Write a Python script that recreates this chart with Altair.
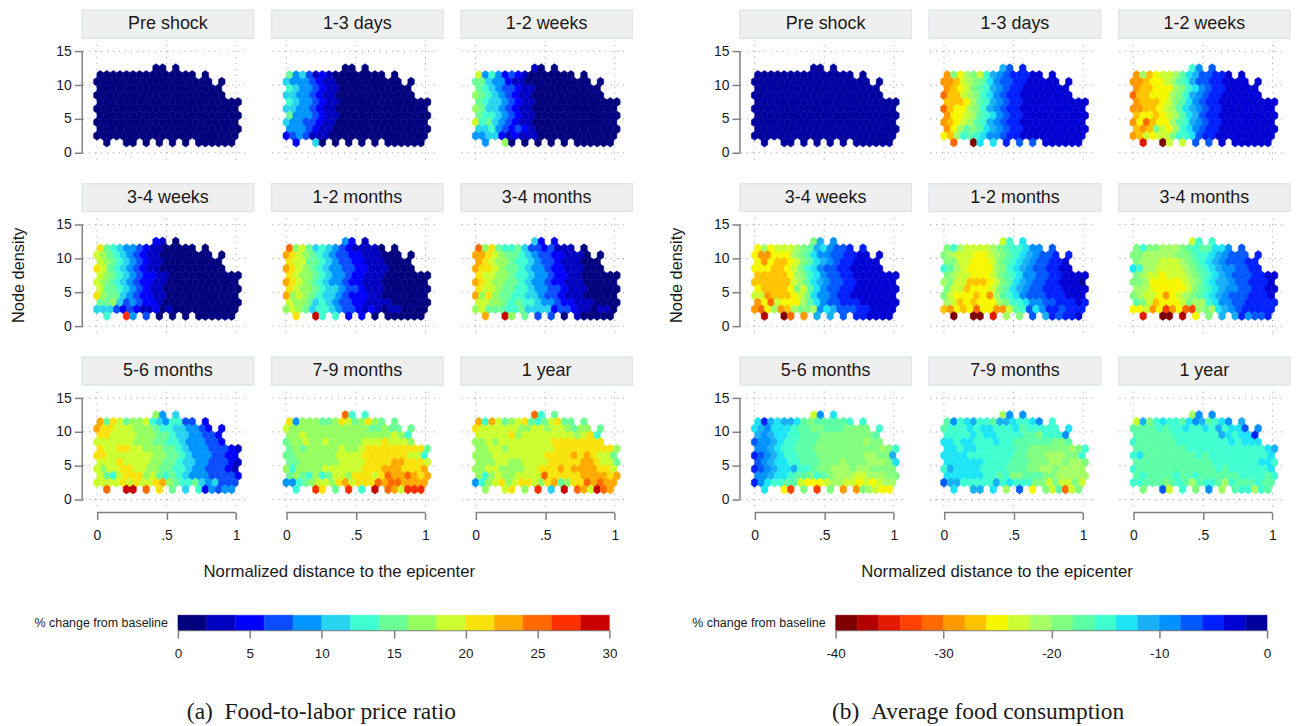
import altair as alt
import pandas as pd

LABELS = ["Pre shock", "1-3 days", "1-2 weeks", "3-4 weeks", "1-2 months", "3-4 months",
          "5-6 months", "7-9 months", "1 year"]

# hex rows from top to bottom: node density and the column indices present in that row
ROW_Y = [12.5, 11.5, 10.5, 9.5, 8.5, 7.5, 6.5, 5.5, 4.5, 3.5, 2.5, 1.5]
ROW_K = [[9, 10, 12], list(range(15)) + [16], list(range(18)) + [19], list(range(19)), list(range(20)),
         list(range(22)), list(range(22)), list(range(22)), list(range(22)), list(range(22)), list(range(22)),
         [1, 4, 5, 7, 9, 11, 13, 15, 16, 17, 18, 19, 20]]
COL_STEP = 0.0472

# level codes: one character per hexagon, 2 % wide bins
PRICE = [
 ["000", "0"*16, "0"*19, "0"*19, "0"*20, "0"*22, "0"*22, "0"*22, "0"*22, "0"*22, "0"*22, "0"*13],
 ["000", "7453121000000000", "5444321100000000000", "6544321100000000000", "55443211000000000000",
  "6544321100000000000000", "5544321100000000000000", "7444321100000000000000", "5443321100000000000000",
  "4443211000000000000000", "2343111000000000000000", "2500000000000"],
 ["100", "9464232100000000", "7754421100000000000", "7654332110000000000", "87654321100000000000",
  "7655432110000000000000", "8755432110000000000000", "7665432110000000000000", "9675432110000000000000",
  "5564323210000000000000", "4455212111000000000000", "4800000000000"],
 ["210", "a765443211000000", "9876543211000000000", "9876543211000000000", "a9765432110000000000",
  "9876543221100000000000", "9876543221100000000000", "9776543211000000000000", "a877543221100000000000",
  "7785343221000000000000", "5553232112010000000000", "6d43000000000"],
 ["421", "c897565432111100", "ba98765433221110000", "a997765433221110000", "ba987654433221110000",
  "a988765443221110000000", "ba98765443221110000000", "a988765543321110000000", "b898765543222110000000",
  "9887565433221111000000", "8987566543321210110000", "ae66220000000"],
 ["522", "c8a7667533231110", "bba9877654332211100", "ba98876654332111000", "baa98776544322111000",
  "a998876654432211000000", "ba98877654432211100000", "a998776654433211100000", "b8a87766554332111 00000".replace(" ", ""),
  "9988767665443221110000", "8977766755552332110110", "be87330100000"],
 ["845", "b7a9788965466332", "baa9998887665544322", "aa99998887765544332", "99999988877665444332",
  "a99aa99888776544433321", "aa99999998877654443322", "999a999988776554433321", "9899aa9988776654433321",
  "9769aaa897676544433332", "9999a9a99ab87667545333", "ceeca75624344"],
 ["c66", "a4888778a978a877", "9888888888888778777", "8898888888888888986", "788988988888999a9998",
  "787888889889aaaaaaaaa7", "778888889999aaaaaaa996", "778888889999aaaabbaaa9", "868888999999aaabbbaaab",
  "7876867998aaa9acbbcbab", "44678998ab9aaacbccbbbb", "6da7d6ecb9ddd"],
 ["c67", "b6b9789a7679a777", "a999999889989987887", "99999a89999999989a6", "889899999999aaaaaaaa",
  "889989999999aaaaaaaaa8", "88899999999aaaababa997", "88899889999aaaaabba997", "8899888899aaababbbbaa9",
  "8689889999caaaaabbbbab", "4689a89aa98ab78aacbcbb", "89a8d5ecb9ecb"],
]
FOOD = [
 ["jjj", "j"*16, "j"*19, "j"*19, "j"*20, "j"*22, "j"*22, "j"*22, "j"*22, "j"*22, "j"*22, "j"*13],
 ["egh", "5a79a8cefghhhiii", "55689abdfgghhiiiiii", "5678abcefghhiiiiiii", "46689acdfghhiiiiiiii",
  "66679bcefghhiiiiiiiiii", "46779acefghhiiiiiiiiii", "57789bcdfghhiiiiiiiiii", "56789bcefghhiiiiiiiiii",
  "579babdefghhiiiiiiiiii", "769cbcdffghhiiiiiiiiii", "40ddhggiiiiii"],
 ["cfg", "5967889bdegghhii", "5567789bcegghhiiiii", "5667779acdfghhiiiii", "4667779acefghhiiiiii",
  "566678abdfghhiiiiiiiii", "5566789bdefghhiiiiiiii", "6776789bdeghhiiiiiiiii", "5746779bcefghhiiiiiiii",
  "656a879cdfghhiiiiiiiii", "568788accdghhiiiiiiiii", "2088ggiiiiiii"],
 ["aef", "7978889abedfgghh", "7557779abdffgghhiii", "7576678abdefghhiiii", "7776678acdfgghhiiiii",
  "6666679acdfgghhiiiiiii", "66666689bdefgghhiiiiii", "766667a8bdfgghhiiiiiii", "88566678adffghhiiiiiii",
  "57487779bdfgghhhiiiiii", "5479569aa9fdeggghhiiii", "1045eeghhiiii"],
 ["8cd", "ac988889abccdffg", "a98887789abcdefgghh", "aa887778abcdefgghhi", "cb9877779acdefgghhii",
  "a9887778abcdffgghhiiii", "9a8866678abdefgghhiiij", "a8867778abdefgghhhiiii", "a87776759bcdfggghhhiii",
  "986767779accdffgghhhih", "65767477558bcgdfhhghhh", "00029agehghhi"],
 ["8cc", "acaa999abcbbddfg", "aa99999aabccdefgggh", "a9998889abcdefggghh", "dc9988889abcdeffgghh",
  "a98878889abcdefggghhii", "aa97777789acdeefgghhhi", "998777778abcdeffgghhii", "a98875789abcdefggghhhi",
  "ba867778a99cdffgghhhhh", "77857357439a9defghhhhh", "20017aeehfggh"],
 ["8fd", "dhedeedbabbbbbcc", "defdddcbbaabbbaaaac", "efeddccbbbaaaaaaaab", "gffedccbbbaaaaaaa9aa",
  "ffedccbbbaaaaaaaaaa9ac", "hgfedccbbbaaaaaaa99aae", "gfeddccbbbaaa9aaa999ad", "hgfeddeccbaa999a99aaaa",
  "ffeddcbbacba99988999aa", "hfdccbb877789988787899", "d73a3a55a9877"],
 ["9ff", "bfcdeccbeedccdfc", "bcccdcddcccdbcccccd", "ccccdcddccccbbacccf", "ddcddcccdccbbbbbbaab",
  "ddcddccccccbbaaaaaa9ac", "ddddcccccccbbaaa999aac", "ddddddccccbbbaaa99a99a", "ceddddccccbbbaa99a9999",
  "ddddddccbcaabbbaa99999", "geecccccecdcccaa8a88a8", "deed9g7a8b48a"],
 ["9ff", "8eacdccbdfebcdfe", "bbbbcbccdccdcecddgf", "bbbbbbcccccccedcddh", "cbbbbbbccccccccdcddd",
  "bbbbbbbbccccccccccccde", "cdbbbbbbbbcbcccccccccd", "bbbbbbbbbbbbcccccccddc", "cbbbbbbbbbbbbcbccccccd",
  "bcbbbbcbbcbbbbbbccccbc", "ccbbbabcb9bccb9cbbbcbb", "ag8caf9bcc9cb"],
]

PRICE_COLORS = ["#00007f", "#0000c0", "#0000ff", "#0a4dff", "#0095ff", "#28d4f0", "#40ffd0", "#6cff96",
                "#96ff60", "#ccff30", "#f8e40c", "#ffaa00", "#ff6a00", "#ff3000", "#c80000"]
FOOD_COLORS = ["#7f0000", "#b30000", "#e31a00", "#ff4000", "#ff6a00", "#ff9900", "#ffc300", "#f7f700",
               "#ccff33", "#a6ff66", "#80ff80", "#5cffa6", "#40ffd0", "#1ee5f5", "#1ab0f5", "#0090ff",
               "#0059ff", "#0020ff", "#0000d5", "#00009f"]
PRICE_TICKS = [0, 5, 10, 15, 20, 25, 30]
FOOD_TICKS = [-40, -30, -20, -10, 0]

W, H = 172, 156
XDOM = [-0.1055, 1.1258]
YDOM = [-1.915, 21.06]
HEX = "M0,-1L0.727,-0.5L0.727,0.5L0,1L-0.727,0.5L-0.727,-0.5Z"
SANS = "Liberation Sans"
SERIF = "Liberation Serif"
GRAY = "#808080"
INK = "#1a1a1a"

xs = alt.Scale(domain=XDOM, nice=False, zero=False)
ys = alt.Scale(domain=YDOM, nice=False, zero=False)

# colour scales are shared across a concat, so one scale holds both (non-overlapping) value ranges
color_scale = alt.Scale(domain=[2 * i + 1 for i in range(15)] + [-40 + 2 * i + 1 for i in range(20)],
                        range=PRICE_COLORS + FOOD_COLORS)


def hex_frame(rows, start):
    out = []
    for y, ks, row in zip(ROW_Y, ROW_K, rows):
        row = (row + row[-1] * 30)[:len(ks)]
        offset = 0.5 * COL_STEP if int(y) % 2 == 1 else 0.0
        for k, c in zip(ks, row):
            out.append({"d": round(offset + k * COL_STEP, 4), "n": y, "v": start + 2 * int(c, 36) + 1})
    return pd.DataFrame(out)


def text_layer(txt, x, y, size=14, align="center", font=SANS, angle=None):
    kw = dict(align=align, baseline="middle", fontSize=size, font=font, color=INK)
    if angle is not None:
        kw["angle"] = angle
    return alt.Chart(pd.DataFrame({"t": [txt]})).mark_text(**kw).encode(text="t:N", x=alt.value(x), y=alt.value(y))


def panel(rows, label, start, first_col, last_row, mid_col, mid_row):
    one = pd.DataFrame({"a": [0]})
    yaxis = alt.Axis(values=[0, 5, 10, 15], title=None, domain=False, grid=False, tickSize=8, tickColor=GRAY,
                     tickWidth=1.5, labelFontSize=14, labelFont=SANS, labelColor=INK, labelPadding=3) if first_col else None
    xaxis = alt.Axis(values=[0, 0.5, 1], title=None, domain=False, grid=False, tickSize=7, tickColor=GRAY,
                     tickWidth=1.5, labelFontSize=14, labelFont=SANS, labelColor=INK, labelPadding=9,
                     labelExpr="datum.value == 0.5 ? '.5' : toString(datum.value)") if last_row else None
    layers = [
        alt.Chart(one).mark_rect(fill="#efefef", stroke="#dde6ea", strokeWidth=1.5).encode(
            x=alt.value(0), x2=alt.value(W), y=alt.value(0), y2=alt.value(28)),
        text_layer(label, W / 2, 14, size=18),
    ]
    vgrid = pd.DataFrame({"x": [0, 0.5, 1], "a": [-1.0] * 3, "b": [16.2] * 3})
    hgrid = pd.DataFrame({"y": [0, 5, 10, 15], "a": [-0.1] * 4, "b": [1.1] * 4})
    dots = dict(color="#9a9a9a", strokeWidth=1, strokeDash=[1, 5])
    layers.append(alt.Chart(vgrid).mark_rule(**dots).encode(
        x=alt.X("x:Q", scale=xs, axis=xaxis), y=alt.Y("a:Q", scale=ys, axis=yaxis), y2="b:Q"))
    layers.append(alt.Chart(hgrid).mark_rule(**dots).encode(
        y=alt.Y("y:Q", scale=ys, axis=yaxis), x=alt.X("a:Q", scale=xs, axis=xaxis), x2="b:Q"))
    if first_col:
        layers.append(alt.Chart(pd.DataFrame({"a": [0], "b": [15]})).mark_rule(color=GRAY, strokeWidth=1.5).encode(
            x=alt.value(0), y=alt.Y("a:Q", scale=ys, axis=yaxis), y2="b:Q"))
    if last_row:
        layers.append(alt.Chart(pd.DataFrame({"a": [0], "b": [1]})).mark_rule(color=GRAY, strokeWidth=1.5).encode(
            y=alt.value(H), x=alt.X("a:Q", scale=xs, axis=xaxis), x2="b:Q"))
    layers.append(alt.Chart(hex_frame(rows, start)).mark_point(
        shape=HEX, filled=True, size=82, opacity=1, strokeWidth=0.5).encode(
        x=alt.X("d:Q", scale=xs, axis=xaxis),
        y=alt.Y("n:Q", scale=ys, axis=yaxis),
        fill=alt.Fill("v:O", scale=color_scale, legend=None),
        stroke=alt.Stroke("v:O", scale=color_scale, legend=None)))
    if mid_col and last_row:
        layers.append(text_layer("Normalized distance to the epicenter", 68, 216, size=16.8))
    if first_col and mid_row:
        layers.append(text_layer("Node density", -63, 92, size=16.4, angle=270))
    return alt.layer(*layers).properties(width=W, height=H)


def spacer(w, h):
    return alt.Chart(pd.DataFrame({"a": [0]})).mark_point(opacity=0, size=1).encode(
        x=alt.value(5), y=alt.value(5)).properties(width=w, height=h)


def color_bar(colors, start, ticks, caption, cap_x):
    lo = [start + 2 * i for i in range(len(colors))]
    df = pd.DataFrame({"lo": lo, "hi": [v + 2 for v in lo], "v": [v + 1 for v in lo]})
    bar = alt.Chart(df).mark_rect(strokeWidth=0.4).encode(
        x=alt.X("lo:Q", scale=alt.Scale(domain=[ticks[0], ticks[-1]], nice=False, zero=False),
                axis=alt.Axis(values=ticks, title=None, grid=False, tickSize=8, tickColor=GRAY, tickWidth=1.5,
                              domainColor=GRAY, domainWidth=1.5, labelFontSize=13.5, labelFont=SANS, labelColor=INK,
                              labelPadding=9, labelFlush=False, labelOverlap=False,
                              labelExpr="toString(datum.value)")),
        x2="hi:Q", y=alt.value(0), y2=alt.value(15),
        fill=alt.Fill("v:O", scale=color_scale, legend=None),
        stroke=alt.Stroke("v:O", scale=color_scale, legend=None))
    return alt.layer(bar,
                     text_layer("% change from baseline", -10, 8, size=12.5, align="right"),
                     text_layer(caption, cap_x, 97, size=23.5, font=SERIF)).properties(width=433, height=15)


cells = []
for r in range(3):
    for c in range(3):
        i = r * 3 + c
        cells.append(panel(PRICE[i], LABELS[i], 0, c == 0, r == 2, c == 1, r == 1))
    cells.append(spacer(71.5, H))
    for c in range(3):
        i = r * 3 + c
        cells.append(panel(FOOD[i], LABELS[i], -40, c == 0, r == 2, c == 1, r == 1))

grid = alt.concat(*cells, columns=7, spacing=18, bounds="flush")
bars = alt.hconcat(
    spacer(96, 15),
    color_bar(PRICE_COLORS, 0, PRICE_TICKS, "(a)\u00a0\u00a0Food-to-labor price ratio", 144),
    spacer(226.5, 15),
    color_bar(FOOD_COLORS, -40, FOOD_TICKS, "(b)\u00a0\u00a0Average food consumption", 143),
    spacing=0, bounds="flush")

chart = alt.vconcat(grid, bars, spacing=33).properties(padding={"left": 3.5, "top": 0, "right": 0, "bottom": 0}).configure_view(stroke=None)
chart.save("out.html", embed_options={"renderer": "svg", "actions": False})
